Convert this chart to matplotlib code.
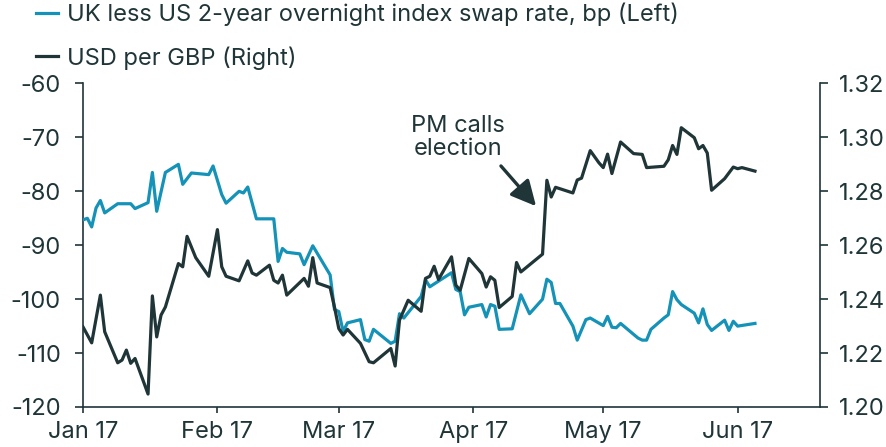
import matplotlib.pyplot as plt
import matplotlib.dates as mdates
import pandas as pd

# UK less US 2-year OIS spread, bp (left axis)
ois_dates = [
    "2017-01-01", "2017-01-02", "2017-01-03", "2017-01-04", "2017-01-05", "2017-01-06",
    "2017-01-09", "2017-01-12", "2017-01-13", "2017-01-16", "2017-01-17", "2017-01-18",
    "2017-01-20", "2017-01-23", "2017-01-24", "2017-01-26", "2017-01-30", "2017-01-31",
    "2017-02-02", "2017-02-03", "2017-02-06", "2017-02-07", "2017-02-08", "2017-02-10",
    "2017-02-14", "2017-02-15", "2017-02-16", "2017-02-17", "2017-02-20", "2017-02-21",
    "2017-02-23", "2017-02-27", "2017-02-28", "2017-03-01", "2017-03-02", "2017-03-03",
    "2017-03-06", "2017-03-07", "2017-03-08", "2017-03-09", "2017-03-13", "2017-03-14",
    "2017-03-15", "2017-03-16", "2017-03-20", "2017-03-21", "2017-03-22", "2017-03-27",
    "2017-03-28", "2017-03-29", "2017-03-30", "2017-03-31", "2017-04-03", "2017-04-04",
    "2017-04-05", "2017-04-06", "2017-04-07", "2017-04-10", "2017-04-12", "2017-04-14",
    "2017-04-17", "2017-04-18", "2017-04-19", "2017-04-20", "2017-04-21", "2017-04-24",
    "2017-04-25", "2017-04-27", "2017-04-28", "2017-05-01", "2017-05-02", "2017-05-03",
    "2017-05-04", "2017-05-05", "2017-05-09", "2017-05-10", "2017-05-11", "2017-05-12",
    "2017-05-15", "2017-05-16", "2017-05-17", "2017-05-18", "2017-05-19", "2017-05-22",
    "2017-05-23", "2017-05-24", "2017-05-25", "2017-05-26", "2017-05-29", "2017-05-30",
    "2017-05-31", "2017-06-01", "2017-06-05",
]
ois_spread = [
    -85.3, -85.0, -86.6, -83.1, -81.7, -84.0,
    -82.3, -82.3, -83.2, -82.1, -76.5, -83.7,
    -76.5, -75.0, -78.7, -76.6, -76.9, -75.3,
    -80.6, -82.2, -80.0, -80.3, -79.2, -85.1,
    -85.1, -93.0, -90.6, -91.3, -91.6, -93.6,
    -90.1, -95.5, -101.9, -102.3, -106.0, -104.4,
    -103.8, -107.5, -107.8, -105.6, -108.2, -107.8,
    -102.7, -103.5, -99.5, -96.4, -97.7, -95.1,
    -98.2, -98.6, -102.9, -101.5, -101.0, -103.3,
    -101.0, -101.3, -105.6, -105.5, -99.2, -102.7,
    -100.0, -96.3, -96.9, -100.8, -100.8, -105.0,
    -107.6, -103.8, -103.5, -104.9, -103.2, -105.2,
    -105.3, -104.5, -107.2, -107.6, -107.6, -105.6,
    -103.5, -102.9, -98.6, -100.1, -101.0, -102.6,
    -104.4, -101.8, -104.7, -105.8, -103.9, -105.8,
    -104.1, -105.0, -104.5,
]

# USD per GBP (right axis)
fx_dates = [
    "2017-01-01", "2017-01-03", "2017-01-05", "2017-01-06", "2017-01-09", "2017-01-10",
    "2017-01-11", "2017-01-12", "2017-01-13", "2017-01-16", "2017-01-17", "2017-01-18",
    "2017-01-19", "2017-01-20", "2017-01-23", "2017-01-24", "2017-01-25", "2017-01-27",
    "2017-01-30", "2017-02-01", "2017-02-02", "2017-02-03", "2017-02-06", "2017-02-08",
    "2017-02-09", "2017-02-10", "2017-02-13", "2017-02-14", "2017-02-15", "2017-02-16",
    "2017-02-17", "2017-02-21", "2017-02-22", "2017-02-23", "2017-02-24", "2017-02-27",
    "2017-02-28", "2017-03-01", "2017-03-02", "2017-03-03", "2017-03-06", "2017-03-08",
    "2017-03-09", "2017-03-13", "2017-03-14", "2017-03-15", "2017-03-17", "2017-03-20",
    "2017-03-21", "2017-03-22", "2017-03-23", "2017-03-24", "2017-03-27", "2017-03-28",
    "2017-03-29", "2017-03-31", "2017-04-03", "2017-04-04", "2017-04-05", "2017-04-06",
    "2017-04-07", "2017-04-10", "2017-04-11", "2017-04-12", "2017-04-17", "2017-04-18",
    "2017-04-19", "2017-04-20", "2017-04-24", "2017-04-25", "2017-04-26", "2017-04-28",
    "2017-04-30", "2017-05-01", "2017-05-02", "2017-05-03", "2017-05-05", "2017-05-08",
    "2017-05-10", "2017-05-11", "2017-05-15", "2017-05-16", "2017-05-17", "2017-05-18",
    "2017-05-19", "2017-05-22", "2017-05-23", "2017-05-24", "2017-05-25", "2017-05-26",
    "2017-05-29", "2017-05-31", "2017-06-01", "2017-06-02", "2017-06-05",
]
usd_gbp = [
    1.2297, 1.2238, 1.2415, 1.2279, 1.2164, 1.2174,
    1.2211, 1.2162, 1.2180, 1.2048, 1.2412, 1.2260,
    1.2341, 1.2371, 1.2532, 1.2520, 1.2633, 1.2554,
    1.2485, 1.2658, 1.2520, 1.2485, 1.2468, 1.2542,
    1.2497, 1.2489, 1.2526, 1.2470, 1.2460, 1.2489,
    1.2415, 1.2477, 1.2448, 1.2554, 1.2460, 1.2443,
    1.2371, 1.2291, 1.2267, 1.2288, 1.2236, 1.2168,
    1.2164, 1.2217, 1.2152, 1.2322, 1.2396, 1.2355,
    1.2477, 1.2485, 1.2522, 1.2473, 1.2557, 1.2452,
    1.2433, 1.2551, 1.2495, 1.2445, 1.2483, 1.2470,
    1.2369, 1.2410, 1.2536, 1.2501, 1.2567, 1.2841,
    1.2779, 1.2815, 1.2794, 1.2842, 1.2849, 1.2951,
    1.2906, 1.2888, 1.2938, 1.2866, 1.2983, 1.2940,
    1.2937, 1.2888, 1.2893, 1.2917, 1.2970, 1.2937,
    1.3036, 1.2999, 1.2958, 1.2970, 1.2942, 1.2804,
    1.2847, 1.2890, 1.2884, 1.2888, 1.2875,
]

teal = "#1592b8"
dark = "#1f3538"
fs = 17
plt.rcParams["font.family"] = ["Inter", "DejaVu Sans"]
plt.rcParams["font.size"] = fs
plt.rcParams["axes.unicode_minus"] = False
plt.rcParams["text.color"] = dark
plt.rcParams["axes.edgecolor"] = dark
plt.rcParams["xtick.color"] = dark
plt.rcParams["ytick.color"] = dark

fig = plt.figure(figsize=(8.86, 4.47), dpi=100)
ax = fig.add_axes([0.0937, 0.0895, 0.8318, 0.7237])
ax2 = ax.twinx()

ois_x = pd.to_datetime(ois_dates)
fx_x = pd.to_datetime(fx_dates)

l1, = ax.plot(ois_x, ois_spread, color=teal, lw=2.3, zorder=3,
              label="UK less US 2-year overnight index swap rate, bp (Left)")
l2, = ax2.plot(fx_x, usd_gbp, color=dark, lw=2.3, zorder=3,
               label="USD per GBP (Right)")

ax.set_ylim(-120, -60)
ax.set_yticks(range(-120, -59, 10))
ax2.set_ylim(1.20, 1.32)
ax2.set_yticks([1.20, 1.22, 1.24, 1.26, 1.28, 1.30, 1.32])
ax2.yaxis.set_major_formatter(plt.FormatStrFormatter("%.2f"))

ax.set_xlim(pd.Timestamp("2017-01-01"), pd.Timestamp("2017-06-20"))
ax.xaxis.set_major_locator(mdates.MonthLocator())
ax.xaxis.set_major_formatter(mdates.DateFormatter("%b %y"))

for a in (ax, ax2):
    a.spines["top"].set_visible(False)
    for s in a.spines.values():
        s.set_linewidth(1.2)
ax.spines["right"].set_visible(False)
ax2.spines["left"].set_visible(False)
ax2.spines["bottom"].set_visible(False)

ax.tick_params(axis="y", direction="out", length=6, width=1.2, pad=10)
ax.tick_params(axis="x", direction="out", length=4, width=1.2, pad=6)
ax2.tick_params(axis="y", direction="out", length=6, width=1.2, pad=8)

# arrow runs from the lower right of the label down to the jump
ax2.annotate("PM calls\nelection",
             xy=(pd.Timestamp("2017-04-15 12:00"), 1.2745),
             xytext=(pd.Timestamp("2017-03-28 12:00"), 1.3000),
             ha="center", va="center", fontsize=fs, linespacing=1.05,
             arrowprops=dict(arrowstyle="-|>,head_length=0.9,head_width=0.45",
                             color=dark, lw=2.4, relpos=(0.88, 0.05),
                             patchA=None, shrinkA=8, shrinkB=0))

fig.legend(handles=[l1, l2], loc="upper left", bbox_to_anchor=(0.035, 1.005),
           frameon=False, borderpad=0.2, handlelength=0.95, handletextpad=0.36,
           labelspacing=0.85, borderaxespad=0, fontsize=fs)

fig.savefig("out.png", dpi=100)
